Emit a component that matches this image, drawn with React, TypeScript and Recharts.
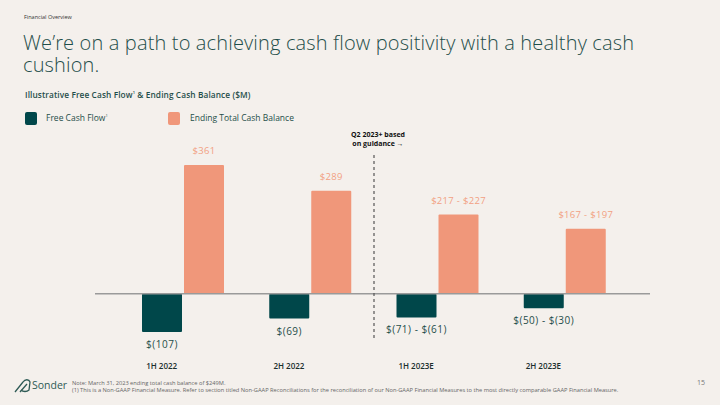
import React from 'react';
import { BarChart, Bar, XAxis, YAxis, ReferenceLine, LabelList } from 'recharts';

// periods and values ($M); ranges drawn at their midpoints
const periods = ['1H 2022', '2H 2022', '1H 2023E', '2H 2023E'];
const freeCashFlow = [-107, -69, -66, -40];
const endingCash = [361, 289, 222, 182];
const fcfLabels = ['$(107)', '$(69)', '$(71) - $(61)', '$(50) - $(30)'];
const cashLabels = ['$361', '$289', '$217 - $227', '$167 - $197'];

const DARK = '#00474A';
const ORANGE = '#F0977A';
const BG = '#F4F0EC';
const FONT = '"Open Sans", "Noto Sans", sans-serif';

const data = periods.map((p, i) => ({
  period: p,
  fcf: freeCashFlow[i],
  cash: endingCash[i],
  fcfLabel: fcfLabels[i],
  cashLabel: cashLabels[i],
}));

const BelowLabel = (props: any) => {
  const { x, y, width, height, value } = props;
  const bottom = Math.max(y, y + height);
  return (
    <text x={x + width / 2} y={bottom + 12} textAnchor="middle" dominantBaseline="central"
      fontFamily={FONT} fontSize={10} fontWeight={500} letterSpacing={0.5} fill="#1F4E4A">
      {value}
    </text>
  );
};

const AboveLabel = (props: any) => {
  const { x, y, width, height, value } = props;
  const top = Math.min(y, y + height);
  return (
    <text x={x + width / 2} y={top - 14} textAnchor="middle" dominantBaseline="central"
      fontFamily={FONT} fontSize={9.5} fontWeight={500} letterSpacing={0.3} fill="#F2A082">
      {value}
    </text>
  );
};

const PeriodTick = (props: any) => {
  const { x, y, payload } = props;
  return (
    <text x={x - 21} y={y} textAnchor="middle" dominantBaseline="central"
      fontFamily={FONT} fontSize={8} fontWeight={600} fill="#1A2E2C">
      {payload.value}
    </text>
  );
};

const titleStyle: React.CSSProperties = {
  position: 'absolute', left: 23, height: 22, fontSize: 20, lineHeight: '22px', fontWeight: 300,
  letterSpacing: 0.15, color: '#1F4E4A', whiteSpace: 'nowrap', overflow: 'visible',
};

export default function App() {
  return (
    <div style={{ position: 'fixed', left: 0, top: 0, width: 720, height: 405, background: BG, fontFamily: FONT, color: '#1F4E4A', overflow: 'hidden' }}>
      <div style={{ position: 'absolute', left: 24, top: 13, fontSize: 5.5, color: '#333' }}>Financial Overview</div>
      <div style={{ ...titleStyle, top: 32 }}>We’re on a path to achieving cash flow positivity with a healthy cash</div>
      <div style={{ ...titleStyle, top: 54 }}>cushion.</div>
      <div style={{ position: 'absolute', left: 25, top: 89, fontSize: 8.3, fontWeight: 600, letterSpacing: 0.1, color: '#1F4E4A' }}>
        Illustrative Free Cash Flow<sup style={{ fontSize: 4 }}>1</sup> &amp; Ending Cash Balance ($M)
      </div>

      <div style={{ position: 'absolute', left: 25, top: 112, width: 12, height: 13, borderRadius: 2, background: DARK }} />
      <div style={{ position: 'absolute', left: 46, top: 112, fontSize: 8.5, fontWeight: 500, color: '#1F4E4A' }}>
        Free Cash Flow<sup style={{ fontSize: 4 }}>1</sup>
      </div>
      <div style={{ position: 'absolute', left: 168, top: 112, width: 12, height: 13, borderRadius: 2, background: ORANGE }} />
      <div style={{ position: 'absolute', left: 190, top: 112, fontSize: 8.5, fontWeight: 500, color: '#1F4E4A' }}>
        Ending Total Cash Balance
      </div>

      <div style={{ position: 'absolute', left: 338, top: 131, width: 80, textAlign: 'center', fontSize: 7, lineHeight: '8.5px', fontWeight: 700, color: '#111' }}>
        Q2 2023+ based<br />on guidance →
      </div>

      <div style={{ position: 'absolute', left: 0, top: 0 }}>
        <BarChart width={720} height={405} data={data}
          margin={{ top: 151, right: 70, bottom: 34, left: 95 }}
          barSize={40} barGap={2}>
          <XAxis dataKey="period" axisLine={false} tickLine={false} padding={{ left: 24, right: 22 }}
            tick={<PeriodTick />} tickMargin={8} height={20} />
          <YAxis hide domain={[-160, 400]} />
          <ReferenceLine y={0} stroke="#9A9A9A" strokeWidth={1.5} />
          <Bar dataKey="fcf" fill={DARK} radius={1} isAnimationActive={false}>
            <LabelList dataKey="fcfLabel" content={<BelowLabel />} />
          </Bar>
          <Bar dataKey="cash" fill={ORANGE} radius={1} isAnimationActive={false}>
            <LabelList dataKey="cashLabel" content={<AboveLabel />} />
          </Bar>
        </BarChart>
      </div>

      <svg style={{ position: 'absolute', left: 0, top: 0 }} width={720} height={405}>
        <line x1={374} y1={155} x2={374} y2={341} stroke="#555" strokeWidth={1.2} strokeDasharray="3 3" />
        <g transform="translate(14,378)" fill="none" stroke="#2E5A55" strokeWidth={1.3} strokeLinejoin="round">
          <path d="M1 14 L9 4 C11 1 15 1 16 4 L15 12 C13 14 9 14 7 12" />
          <path d="M6 14 L13 6" />
        </g>
      </svg>
      <div style={{ position: 'absolute', left: 32, top: 378, fontSize: 10.5, fontWeight: 500, color: '#2E5A55' }}>Sonder</div>
      <div style={{ position: 'absolute', left: 72, top: 380, fontSize: 5.7, lineHeight: '7px', color: '#666', whiteSpace: 'nowrap' }}>
        Note: March 31, 2023 ending total cash balance of $249M.<br />
        (1) This is a Non-GAAP Financial Measure. Refer to section titled Non-GAAP Reconciliations for the reconciliation of our Non-GAAP Financial Measures to the most directly comparable GAAP Financial Measure.
      </div>
      <div style={{ position: 'absolute', left: 697, top: 378, fontSize: 7, color: '#777' }}>15</div>
    </div>
  );
}
